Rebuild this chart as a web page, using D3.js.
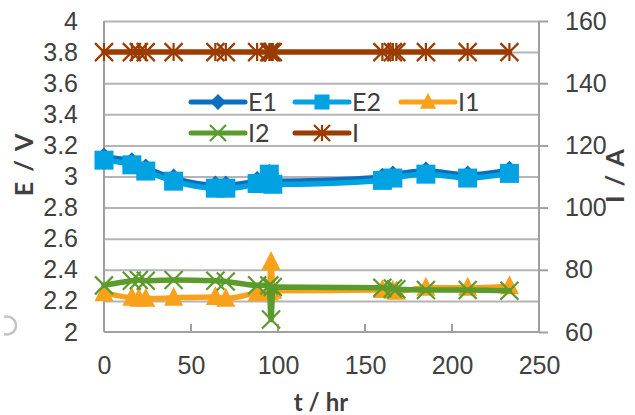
<!DOCTYPE html>
<html>
<head>
<meta charset="utf-8">
<script src="https://cdn.jsdelivr.net/npm/d3@7"></script>
<style>
  body { margin: 0; background: #fff; }
  svg { display: block; font-family: Lato, "Open Sans", sans-serif; }
  .tick text { fill: #404040; font-size: 25px; }
</style>
</head>
<body>
<svg id="chart" width="635" height="415"></svg>
<script>
// data
var tE = [0, 16, 24, 40, 64, 70, 88, 95, 97, 160, 166, 185, 209, 233];
var E1 = [3.125, 3.095, 3.055, 2.99, 2.945, 2.945, 2.975, 3.02, 2.97, 2.995, 3.01, 3.035, 3.01, 3.04];
var E2 = [3.105, 3.075, 3.035, 2.97, 2.925, 2.925, 2.955, 3.015, 2.95, 2.975, 2.99, 3.015, 2.99, 3.02];

var tI = [0, 16, 20, 24, 40, 64, 70, 88, 95, 96, 97, 160, 166, 168, 185, 209, 233];
var I1 = [72.5, 71, 70.75, 70.75, 71, 71.25, 70.75, 72.5, 72.75, 82.5, 73.25, 73.5, 73.25, 73, 74.25, 74.25, 74.75];
var I2 = [75, 76.5, 76.75, 76.5, 76.75, 76.5, 76.25, 75, 75, 64, 74.5, 74.25, 74, 73.75, 73.5, 73.5, 73.25];
var I = [150, 150, 150, 150, 150, 150, 150, 150, 150, 150, 150, 150, 150, 150, 150, 150, 150];

var xTicks = [0, 50, 100, 150, 200, 250];
var leftTicks = [2, 2.2, 2.4, 2.6, 2.8, 3, 3.2, 3.4, 3.6, 3.8, 4];
var rightTicks = [60, 80, 100, 120, 140, 160];

var svg = d3.select("#chart");

// plot area
var pLeft = 104, pRight = 539, pTop = 21, pBottom = 332;
var x = d3.scaleLinear().domain([0, 250]).range([pLeft, pRight]);
var yL = d3.scaleLinear().domain([2, 4]).range([pBottom, pTop]);
var yR = d3.scaleLinear().domain([60, 160]).range([pBottom, pTop]);

var gridCol = "#b4b4b4", axisCol = "#a0a0a0", textCol = "#404040";

// faint clipped mark at the left edge
svg.append("path").attr("d", "M4,317 A9,9 0 1 1 4,334")
    .attr("fill", "none").attr("stroke", "#c4c4c4").attr("stroke-width", 2.5);

// gridlines
svg.append("g")
    .attr("transform", "translate(" + pLeft + ",0)")
    .call(d3.axisLeft(yL).tickValues(leftTicks.slice(1)).tickSize(-(pRight - pLeft)).tickFormat(""))
    .call(function (g) { g.select(".domain").remove(); })
    .selectAll("line").attr("stroke", gridCol).attr("stroke-width", 2);

// left axis labels
svg.append("g")
    .attr("transform", "translate(" + pLeft + ",0)")
    .call(d3.axisLeft(yL).tickValues(leftTicks).tickSize(0).tickPadding(26).tickFormat(d3.format("")))
    .call(function (g) { g.select(".domain").remove(); });

// right axis
svg.append("g")
    .attr("transform", "translate(" + pRight + ",0)")
    .call(d3.axisRight(yR).tickValues(rightTicks).tickSize(9).tickPadding(17))
    .call(function (g) {
        g.select(".domain").remove();
        g.selectAll("line").attr("stroke", axisCol).attr("stroke-width", 2);
    });

// bottom axis, ticks pointing inside
svg.append("g")
    .attr("transform", "translate(0," + pBottom + ")")
    .call(d3.axisBottom(x).tickValues(xTicks).tickSize(0).tickPadding(24))
    .call(function (g) { g.select(".domain").remove(); });
svg.append("g").selectAll("line")
    .data(xTicks.slice(1, -1)).join("line")
    .attr("x1", function (d) { return x(d); }).attr("x2", function (d) { return x(d); })
    .attr("y1", pBottom - 8).attr("y2", pBottom)
    .attr("stroke", axisCol).attr("stroke-width", 2);

// frame lines
svg.append("line").attr("x1", pLeft).attr("x2", pLeft).attr("y1", pTop).attr("y2", pBottom)
    .attr("stroke", axisCol).attr("stroke-width", 2);
svg.append("line").attr("x1", pRight).attr("x2", pRight).attr("y1", pTop).attr("y2", pBottom)
    .attr("stroke", axisCol).attr("stroke-width", 2);
svg.append("line").attr("x1", pLeft).attr("x2", pRight).attr("y1", pBottom).attr("y2", pBottom)
    .attr("stroke", axisCol).attr("stroke-width", 2);

// axis titles
svg.append("text").attr("transform", "translate(33,165) rotate(-90)")
    .attr("text-anchor", "middle").attr("font-size", 25).attr("font-weight", "bold")
    .attr("word-spacing", 4).attr("fill", textCol).text("E / V");
svg.append("text").attr("transform", "translate(624,176) rotate(-90)")
    .attr("text-anchor", "middle").attr("font-size", 25).attr("font-weight", "bold")
    .attr("word-spacing", 3).attr("fill", textCol).text("I / A");
svg.append("text").attr("x", 321).attr("y", 411)
    .attr("text-anchor", "middle").attr("font-size", 24).attr("font-weight", "bold")
    .attr("fill", textCol).text("t / hr");

// markers
function drawMarker(g, type, cx, cy, col, s) {
    if (type == "diamond") {
        g.append("path").attr("d", "M" + cx + "," + (cy - s) + "L" + (cx + s) + "," + cy + "L" + cx + "," + (cy + s) + "L" + (cx - s) + "," + cy + "Z")
            .attr("fill", col);
    } else if (type == "square") {
        g.append("rect").attr("x", cx - s).attr("y", cy - s).attr("width", 2 * s).attr("height", 2 * s)
            .attr("fill", col);
    } else if (type == "triangle") {
        g.append("path").attr("d", "M" + cx + "," + (cy - s * 1.15) + "L" + (cx + s) + "," + (cy + s * 0.85) + "L" + (cx - s) + "," + (cy + s * 0.85) + "Z")
            .attr("fill", col);
    } else {
        var p = "M" + (cx - s) + "," + (cy - s) + "L" + (cx + s) + "," + (cy + s) +
            "M" + (cx - s) + "," + (cy + s) + "L" + (cx + s) + "," + (cy - s);
        if (type == "star") p += "M" + cx + "," + (cy - s) + "L" + cx + "," + (cy + s);
        g.append("path").attr("d", p).attr("stroke", col).attr("stroke-width", 2.2).attr("fill", "none");
    }
}

var series = [
    { name: "E1", t: tE, v: E1, y: yL, col: "#0b6fbf", mark: "diamond", s: 9.5 },
    { name: "E2", t: tE, v: E2, y: yL, col: "#00a2e2", mark: "square", s: 9.5 },
    { name: "I1", t: tI, v: I1, y: yR, col: "#f9a11b", mark: "triangle", s: 9.5 },
    { name: "I2", t: tI, v: I2, y: yR, col: "#5b9b2c", mark: "x", s: 9 },
    { name: "I", t: tI, v: I, y: yR, col: "#9a3b00", mark: "star", s: 9 }
];

series.forEach(function (sr) {
    var g = svg.append("g");
    var pts = sr.t.map(function (t, i) { return [x(t), sr.y(sr.v[i])]; });
    g.append("path").attr("d", d3.line().curve(d3.curveMonotoneX)(pts))
        .attr("fill", "none").attr("stroke", sr.col).attr("stroke-width", 5.5)
        .attr("stroke-linejoin", "round").attr("stroke-linecap", "round");
    pts.forEach(function (p) { drawMarker(g, sr.mark, p[0], p[1], sr.col, sr.s); });
});

// legend
var legPos = [[218, 102], [322, 102], [428, 102], [218, 133], [322, 133]];
series.forEach(function (sr, i) {
    var g = svg.append("g");
    var cx = legPos[i][0], cy = legPos[i][1];
    g.append("line").attr("x1", cx - 27).attr("x2", cx + 27).attr("y1", cy).attr("y2", cy)
        .attr("stroke", sr.col).attr("stroke-width", 5).attr("stroke-linecap", "round");
    drawMarker(g, sr.mark, cx, cy, sr.col, sr.mark == "square" ? 7.5 : 8);
    g.append("text").attr("x", cx + 30).attr("y", cy + 9).attr("font-size", 25)
        .attr("fill", textCol).text(sr.name);
});
</script>
</body>
</html>
